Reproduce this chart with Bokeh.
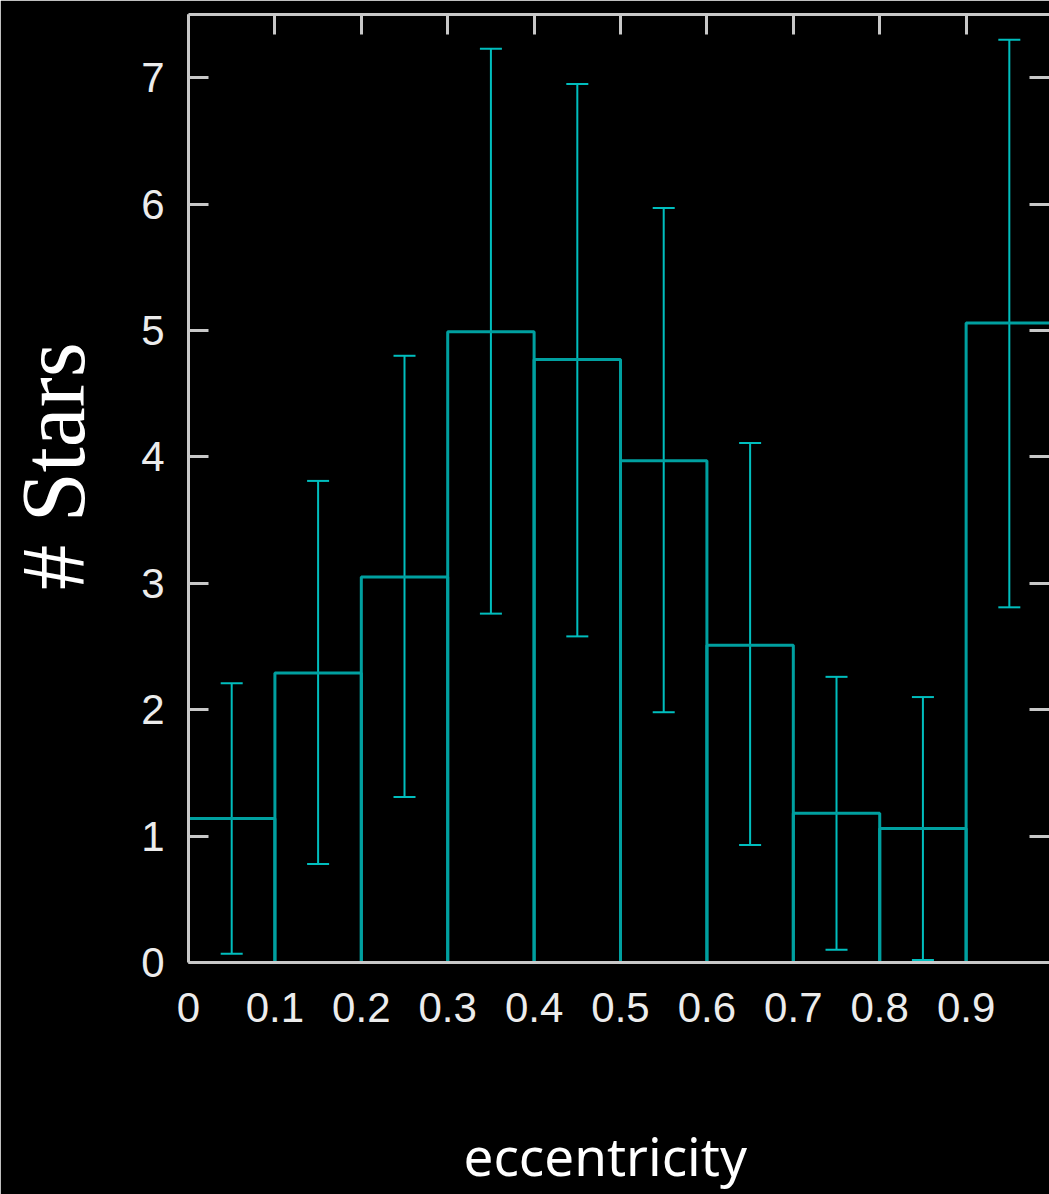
from bokeh.plotting import figure
from bokeh.models import (Range1d, LinearAxis, FixedTicker, NumeralTickFormatter,
                          CustomJSTickFormatter, Whisker, TeeHead, ColumnDataSource)
from bokeh.embed import file_html
from bokeh.resources import INLINE

# ---- data ----
bin_left = [0.0, 0.1, 0.2, 0.3, 0.4, 0.5, 0.6, 0.7, 0.8, 0.9]
bin_right = [0.1, 0.2, 0.3, 0.4, 0.5, 0.6, 0.7, 0.8, 0.9, 1.0]
counts = [1.14, 2.29, 3.05, 4.99, 4.77, 3.97, 2.51, 1.18, 1.06, 5.06]
err_x = [0.05, 0.15, 0.25, 0.35, 0.45, 0.55, 0.65, 0.75, 0.85, 0.95]
err_upper = [2.21, 3.81, 4.80, 7.23, 6.95, 5.97, 4.11, 2.26, 2.10, 7.30]
err_lower = [0.07, 0.78, 1.31, 2.76, 2.58, 1.98, 0.93, 0.10, 0.02, 2.81]
x_ticks = [0.0, 0.1, 0.2, 0.3, 0.4, 0.5, 0.6, 0.7, 0.8, 0.9]
y_ticks = [0, 1, 2, 3, 4, 5, 6, 7]
x_title = "eccentricity"
y_title = "# Stars"

HIST = "#00a0a0"
ERR = "#00bebe"
AXIS = "#c8c8c8"
TXT = "#ececec"
NBSP = "\u00a0"

p = figure(width=1049, height=1194, output_backend="svg", toolbar_location=None,
           x_range=Range1d(0, 0.9965), y_range=Range1d(0, 7.5),
           min_border_left=188, min_border_right=0, min_border_top=14,
           min_border_bottom=232)
p.background_fill_color = "black"
p.border_fill_color = "black"
p.outline_line_color = None
p.grid.visible = False

hist_src = ColumnDataSource(dict(left=bin_left, right=bin_right, top=counts,
                                 bottom=[0] * len(counts)))
p.quad(left="left", right="right", top="top", bottom="bottom", source=hist_src,
       fill_color=None, line_color=HIST, line_width=3)

err_src = ColumnDataSource(dict(x=err_x, upper=err_upper, lower=err_lower))
w = Whisker(base="x", upper="upper", lower="lower", source=err_src,
            line_color=ERR, line_width=2,
            upper_head=TeeHead(size=22, line_color=ERR, line_width=2),
            lower_head=TeeHead(size=22, line_color=ERR, line_width=2))
p.add_layout(w)

def style_axis(ax, ticks):
    ax.ticker = FixedTicker(ticks=ticks)
    ax.axis_line_color = AXIS
    ax.axis_line_width = 3
    ax.major_tick_line_color = AXIS
    ax.major_tick_line_width = 3
    ax.major_tick_in = 20
    ax.major_tick_out = 0
    ax.minor_tick_line_color = None

xa = p.xaxis[0]
style_axis(xa, x_ticks)
xa.major_tick_line_color = None
xa.formatter = NumeralTickFormatter(format="0.[0]")
xa.major_label_text_font = "Liberation Sans"
xa.major_label_text_font_size = "42px"
xa.major_label_text_color = TXT
xa.major_label_standoff = 30
xa.axis_label = x_title + NBSP * 2
xa.axis_label_text_font = "Noto Sans"
xa.axis_label_text_font_style = "normal"
xa.axis_label_text_font_size = "53px"
xa.axis_label_text_color = "white"
xa.axis_label_standoff = 94

ya = p.yaxis[0]
style_axis(ya, y_ticks)
ya.major_label_text_font = "Liberation Sans"
ya.major_label_text_font_size = "42px"
ya.major_label_text_color = TXT
ya.major_label_standoff = 24
ya.axis_label = NBSP * 2 + y_title
ya.axis_label_text_font = "Liberation Serif"
ya.axis_label_text_font_style = "normal"
ya.axis_label_text_font_size = "90px"
ya.axis_label_text_color = "white"
ya.axis_label_standoff = 35

blank = CustomJSTickFormatter(code="return ''")

top = LinearAxis()
style_axis(top, x_ticks)
top.formatter = blank
top.major_label_text_font_size = "1px"
top.major_label_standoff = 0
p.add_layout(top, "above")

right = LinearAxis()
style_axis(right, y_ticks)
right.axis_line_color = None
right.formatter = blank
right.major_label_text_font_size = "1px"
right.major_label_standoff = 0
p.add_layout(right, "right")

open("out.html", "w").write(file_html(p, INLINE))
